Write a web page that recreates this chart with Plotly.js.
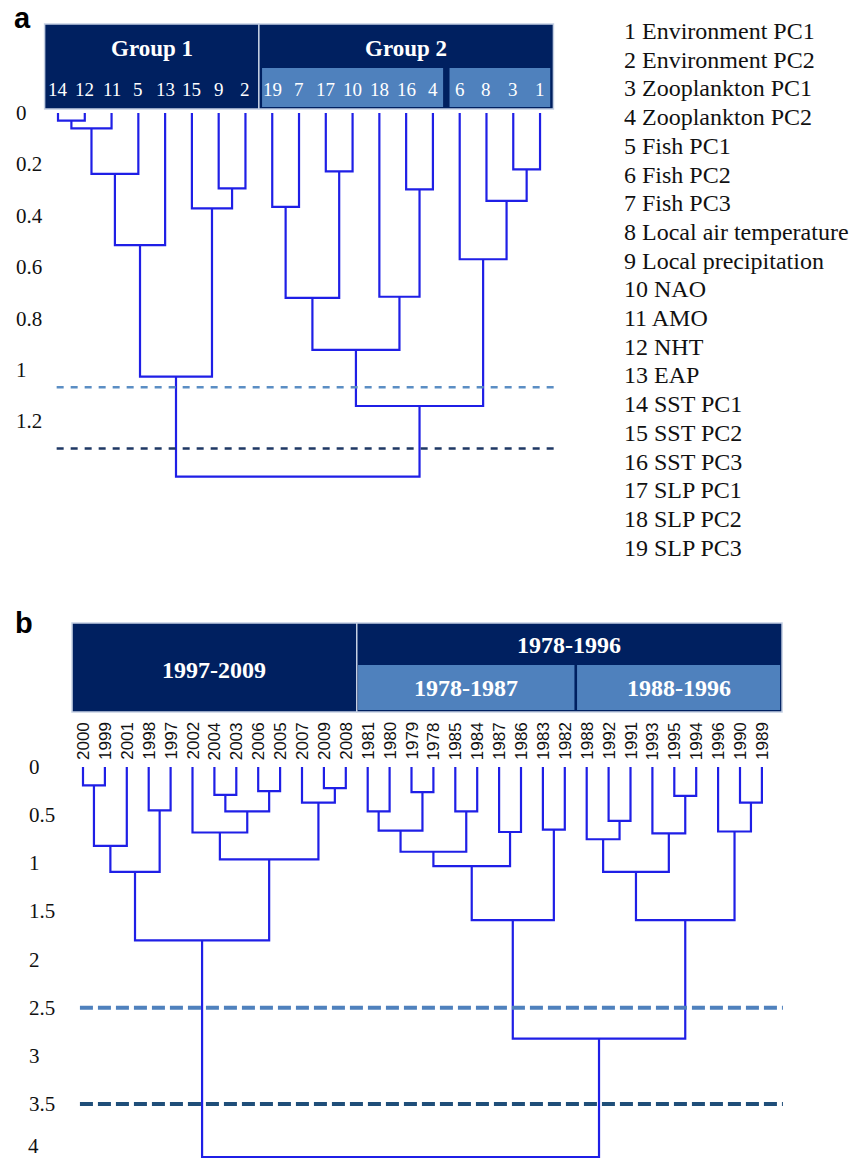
<!DOCTYPE html>
<html><head><meta charset="utf-8">
<script src="https://cdn.plot.ly/plotly-3.0.1.min.js"></script>
<style>html,body{margin:0;padding:0;background:#fff;} #chart{width:865px;height:1159px;}</style>
</head><body><div id="chart"></div>
<script>
// ---------------- Panel a data ----------------
const leavesA = ['14','12','11','5','13','15','9','2','19','7','17','10','18','16','4','6','8','3','1'];
const mergeLeftA   = ['14','c0','c1','c2','9','15','c3','19','17','c7','16','18','c9','3','8','6','c12','c6'];
const mergeRightA  = ['12','11','5','13','2','c4','c5','7','10','c8','4','c10','c11','1','c13','c14','c15','c16'];
const mergeHeightA = [0.03,0.06,0.237,0.514,0.293,0.371,1.026,0.365,0.227,0.719,0.297,0.715,0.922,0.219,0.342,0.569,1.14,1.415];
const groupLabelsA = ['Group 1','Group 2'];
const groupSpansA  = [[0,7],[8,18]];
const subSpansA    = [[8,14],[15,18]];
const cutsA        = [1.067, 1.305];
const tickValsA    = [0,0.2,0.4,0.6,0.8,1,1.2];
const tickTextA    = ['0','0.2','0.4','0.6','0.8','1','1.2'];
const legendA = ['1 Environment PC1','2 Environment PC2','3 Zooplankton PC1','4 Zooplankton PC2','5 Fish PC1','6 Fish PC2','7 Fish PC3','8 Local air temperature','9 Local precipitation','10 NAO','11 AMO','12 NHT','13 EAP','14 SST PC1','15 SST PC2','16 SST PC3','17 SLP PC1','18 SLP PC2','19 SLP PC3'];

// ---------------- Panel b data ----------------
const leavesB = ['2000','1999','2001','1998','1997','2002','2004','2003','2006','2005','2007','2009','2008','1981','1980','1979','1978','1985','1984','1987','1986','1983','1982','1988','1992','1991','1993','1995','1994','1996','1990','1989'];
const mergeLeftB   = ['2000','c0','1998','c1','2004','2006','c4','2002','2009','2007','c7','c3','1981','1979','c12','1985','c14','1987','c16','1983','c18','1992','1988','1995','1993','c22','1990','1996','c25','c20','c11'];
const mergeRightB  = ['1999','2001','1997','c2','2003','2005','c5','c6','2008','c8','c9','c10','1980','1978','c13','1984','c15','1986','c17','1982','c19','1991','c21','1994','c23','c24','1989','c26','c27','c28','c29'];
const mergeHeightB = [0.19,0.82,0.45,1.09,0.29,0.25,0.46,0.68,0.22,0.37,0.96,1.80,0.46,0.26,0.66,0.46,0.88,0.675,1.03,0.65,1.59,0.56,0.75,0.30,0.69,1.09,0.37,0.67,1.59,2.82,4.05];
const groupLabelsB = ['1997-2009','1978-1996'];
const groupSpansB  = [[0,12],[13,31]];
const subLabelsB   = ['1978-1987','1988-1996'];
const subSpansB    = [[13,22],[23,31]];
const cutsB        = [2.5, 3.5];
const tickValsB    = [0,0.5,1,1.5,2,2.5,3,3.5,4];
const tickTextB    = ['0','0.5','1','1.5','2','2.5','3','3.5','4'];

// ---------------- geometry ----------------
const W = 865, H = 1159;
const PA = {x0:58, dx:26.78, y0:113, dy:257, top:0, bottom:580};
const PB = {x0:83, dx:21.9, y0:767, dy:96.3, top:580, bottom:1159};
const xr = P => [-P.x0/P.dx, (W-P.x0)/P.dx];
const yr = P => [(P.bottom-P.y0)/P.dy, (P.top-P.y0)/P.dy];
const vy = (P,px) => (px-P.y0)/P.dy;

const DARK = '#002060', LIGHT = '#4F81BD', LINE = '#1f1fe6';
const SERIF = 'Liberation Serif, Times New Roman, serif';
const SANS = 'Liberation Sans, Arial, sans-serif';

function dendro(leaves, L, R, Hh){
  const pos = {}, ht = {};
  leaves.forEach((l,i)=>{pos[l]=i; ht[l]=0;});
  const xs=[], ys=[];
  L.forEach((l,k)=>{
    const r=R[k], h=Hh[k];
    xs.push(pos[l],pos[l],pos[r],pos[r],null);
    ys.push(ht[l],h,h,ht[r],null);
    pos['c'+k]=(pos[l]+pos[r])/2; ht['c'+k]=h;
  });
  return {xs,ys};
}
const dA = dendro(leavesA, mergeLeftA, mergeRightA, mergeHeightA);
const dB = dendro(leavesB, mergeLeftB, mergeRightB, mergeHeightB);

const traces = [
  {x:dA.xs, y:dA.ys, xaxis:'x', yaxis:'y', mode:'lines', line:{color:LINE,width:2.2}, hoverinfo:'skip', cliponaxis:false},
  {x:dB.xs, y:dB.ys, xaxis:'x2', yaxis:'y2', mode:'lines', line:{color:LINE,width:2.2}, hoverinfo:'skip', cliponaxis:false}
];

const shapes = [], ann = [];
// panel a header
groupSpansA.forEach((s,i)=>{
  shapes.push({type:'rect', xref:'x', yref:'y', x0:s[0]-0.5, x1:s[1]+0.5, y0:vy(PA,24), y1:vy(PA,109), fillcolor:DARK, line:{color:'#c5d0e3',width:1.5}, layer:'below'});
  ann.push({xref:'x', yref:'y', x:(s[0]+s[1])/2, y:vy(PA,48), text:'<b>'+groupLabelsA[i]+'</b>', showarrow:false, font:{family:SERIF,size:23,color:'#fff'}});
});
subSpansA.forEach(s=>{
  shapes.push({type:'rect', xref:'x', yref:'y', x0:s[0]-0.38, x1:s[1]+0.38, y0:vy(PA,68), y1:vy(PA,107), fillcolor:LIGHT, line:{width:0}, layer:'below'});
});
leavesA.forEach((l,i)=>{
  ann.push({xref:'x', yref:'y', x:i, y:vy(PA,89), text:l, showarrow:false, font:{family:SERIF,size:19,color:'#fff'}});
});
cutsA.forEach((c,i)=>{
  shapes.push({type:'line', xref:'x', yref:'y', x0:-0.05, x1:18.55, y0:c, y1:c, line:{color:i===0?'#5b8ec4':'#1F3864', width:2.5, dash:'7px,7px'}});
});
tickValsA.forEach((v,i)=>{
  ann.push({xref:'paper', yref:'y', x:14/W, xanchor:'left', y:v, yanchor:'middle', text:tickTextA[i], showarrow:false, font:{family:SERIF,size:21,color:'#111'}});
});
legendA.forEach((t,i)=>{
  ann.push({xref:'paper', yref:'paper', x:622/W, xanchor:'left', y:1-(31+28.7*i)/H, yanchor:'middle', text:t, showarrow:false, font:{family:SERIF,size:24,color:'#111'}});
});
ann.push({xref:'paper', yref:'paper', x:12/W, xanchor:'left', y:1-18/H, yanchor:'middle', text:'<b>a</b>', showarrow:false, font:{family:SANS,size:29,color:'#000'}});

// panel b header
groupSpansB.forEach((s,i)=>{
  const x1 = i===groupSpansB.length-1 ? s[1]+0.92 : s[1]+0.5;
  shapes.push({type:'rect', xref:'x2', yref:'y2', x0:s[0]-0.5, x1:x1, y0:vy(PB,623), y1:vy(PB,712), fillcolor:DARK, line:{color:'#c5d0e3',width:1.5}, layer:'below'});
  const ty = i===0 ? 670 : 645;
  ann.push({xref:'x2', yref:'y2', x:(s[0]-0.5+x1)/2, y:vy(PB,ty), text:'<b>'+groupLabelsB[i]+'</b>', showarrow:false, font:{family:SERIF,size:24,color:'#fff'}});
});
subSpansB.forEach((s,i)=>{
  const x0 = s[0]-0.44, x1 = i===subSpansB.length-1 ? s[1]+0.83 : s[1]+0.44;
  shapes.push({type:'rect', xref:'x2', yref:'y2', x0:x0, x1:x1, y0:vy(PB,665), y1:vy(PB,710), fillcolor:LIGHT, line:{width:0}, layer:'below'});
  ann.push({xref:'x2', yref:'y2', x:(x0+x1)/2, y:vy(PB,688), text:'<b>'+subLabelsB[i]+'</b>', showarrow:false, font:{family:SERIF,size:24,color:'#fff'}});
});
leavesB.forEach((l,i)=>{
  ann.push({xref:'x2', yref:'y2', x:i, y:vy(PB,741), yanchor:'middle', xanchor:'center', textangle:-90, text:l, showarrow:false, font:{family:SANS,size:17,color:'#111'}});
});
cutsB.forEach((c,i)=>{
  shapes.push({type:'line', xref:'x2', yref:'y2', x0:-0.14, x1:31.96, y0:c, y1:c, line:{color:i===0?'#4F81BD':'#1F4E79', width:4, dash:'13px,5px'}});
});
tickValsB.forEach((v,i)=>{
  const px = PB.y0 + PB.dy*v;
  if (px + 13 > H) {
    ann.push({xref:'paper', yref:'paper', x:27/W, xanchor:'left', y:0, yanchor:'bottom', text:tickTextB[i], showarrow:false, borderpad:0, font:{family:SERIF,size:21,color:'#111'}});
  } else {
    ann.push({xref:'paper', yref:'y2', x:27/W, xanchor:'left', y:v, yanchor:'middle', text:tickTextB[i], showarrow:false, font:{family:SERIF,size:21,color:'#111'}});
  }
});
ann.push({xref:'paper', yref:'paper', x:13/W, xanchor:'left', y:1-623/H, yanchor:'middle', text:'<b>b</b>', showarrow:false, font:{family:SANS,size:29,color:'#000'}});

const ax = {showgrid:false, zeroline:false, showticklabels:false, ticks:'', showline:false, fixedrange:true};
const split = 1-580/H;
const layout = {
  width:W, height:H, margin:{l:0,r:0,t:0,b:0}, paper_bgcolor:'#fff', plot_bgcolor:'rgba(0,0,0,0)',
  showlegend:false,
  xaxis: Object.assign({}, ax, {domain:[0,1], range:xr(PA), anchor:'y'}),
  yaxis: Object.assign({}, ax, {domain:[split,1], range:yr(PA), anchor:'x'}),
  xaxis2: Object.assign({}, ax, {domain:[0,1], range:xr(PB), anchor:'y2'}),
  yaxis2: Object.assign({}, ax, {domain:[0,split], range:yr(PB), anchor:'x2'}),
  shapes: shapes, annotations: ann
};
Plotly.newPlot('chart', traces, layout, {staticPlot:true, displayModeBar:false});
</script></body></html>
